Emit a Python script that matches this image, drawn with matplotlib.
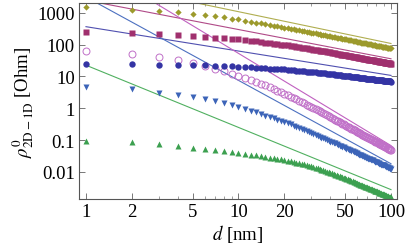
import numpy as np
import matplotlib
matplotlib.use('Agg')
import matplotlib.pyplot as plt

plt.rcParams['font.family'] = ['Liberation Serif', 'DejaVu Serif']
plt.rcParams['mathtext.fontset'] = 'stix'

# separation d [nm], one point per nm
d = list(range(1, 101))

olive_pts = [1535, 1240, 1130, 1050, 930, 870, 790, 720, 665, 620,
             572, 531, 496, 466, 439, 416, 395, 376, 359, 344,
             330, 316, 303, 292, 282, 272, 263, 255, 247, 239,
             232, 225, 219, 213, 207, 202, 197, 192, 187, 183,
             179, 175, 171, 168, 164, 161, 158, 155, 152, 149,
             146, 144, 141, 138, 136, 133, 131, 129, 127, 125,
             123, 121, 119, 117, 115, 114, 112, 110, 109, 107,
             106, 105, 103, 102, 100, 99, 98, 97, 95, 94,
             93, 92, 91, 90, 89, 88, 87, 86, 85, 84,
             83, 82, 82, 81, 80, 79, 78, 78, 77, 76]

square_pts = [251, 227, 212, 197, 184, 176, 167, 160, 155, 149,
              141, 134, 127, 122, 117, 112, 108, 105, 101, 98,
              95, 91, 88, 86, 83, 81, 78, 76, 74, 72,
              70, 69, 67, 65, 64, 62, 61, 59, 58, 57,
              55, 54, 53, 52, 51, 50, 49, 49, 48, 47,
              46, 45, 44, 44, 43, 42, 42, 41, 40, 40,
              39, 39, 38, 38, 37, 36, 36, 35, 35, 35,
              34, 34, 33, 33, 33, 32, 32, 31, 31, 31,
              30, 30, 30, 29, 29, 29, 28, 28, 28, 28,
              27, 27, 27, 27, 26, 26, 26, 26, 25, 25]

blue_pts = [25, 24, 23.5, 23, 23, 22.5, 22, 21.5, 21, 20.5,
            20.0, 19.4, 19.0, 18.5, 18.2, 17.8, 17.5, 17.2, 16.9, 16.7,
            16.3, 16.0, 15.7, 15.3, 15.1, 14.8, 14.6, 14.3, 14.1, 13.9,
            13.6, 13.4, 13.2, 13.0, 12.8, 12.6, 12.4, 12.2, 12.0, 11.9,
            11.7, 11.6, 11.4, 11.3, 11.1, 11.0, 10.9, 10.7, 10.6, 10.5,
            10.4, 10.3, 10.1, 10.0, 9.9, 9.8, 9.7, 9.6, 9.5, 9.4,
            9.3, 9.2, 9.1, 9.1, 9.0, 8.9, 8.8, 8.7, 8.6, 8.6,
            8.5, 8.4, 8.4, 8.3, 8.2, 8.2, 8.1, 8.0, 8.0, 7.9,
            7.9, 7.8, 7.7, 7.7, 7.6, 7.6, 7.5, 7.5, 7.4, 7.4,
            7.3, 7.3, 7.2, 7.2, 7.1, 7.1, 7.0, 7.0, 7.0, 6.9]

open_pts = [65, 50, 40, 33, 27, 21.5, 17.5, 14.5, 12.2, 10.4,
            8.9, 7.6, 6.7, 5.9, 5.2, 4.6, 4.1, 3.6, 3.3, 2.9,
            2.6, 2.3, 2.1, 1.9, 1.7, 1.56, 1.43, 1.31, 1.21, 1.11,
            1.02, 0.94, 0.86, 0.81, 0.74, 0.69, 0.64, 0.60, 0.56, 0.53,
            0.49, 0.46, 0.44, 0.41, 0.39, 0.36, 0.35, 0.33, 0.31, 0.29,
            0.279, 0.266, 0.254, 0.242, 0.230, 0.220, 0.209, 0.201, 0.191, 0.184,
            0.176, 0.169, 0.162, 0.155, 0.149, 0.143, 0.138, 0.132, 0.127, 0.123,
            0.119, 0.114, 0.110, 0.106, 0.103, 0.099, 0.096, 0.093, 0.090, 0.087,
            0.084, 0.081, 0.079, 0.077, 0.074, 0.072, 0.070, 0.068, 0.066, 0.064,
            0.062, 0.060, 0.059, 0.057, 0.055, 0.054, 0.052, 0.051, 0.050, 0.049]

down_pts = [4.7, 3.9, 3.0, 2.6, 2.3, 2.0, 1.7, 1.5, 1.3, 1.13,
            0.97, 0.85, 0.74, 0.66, 0.59, 0.53, 0.48, 0.44, 0.40, 0.37,
            0.34, 0.31, 0.28, 0.26, 0.24, 0.22, 0.20, 0.19, 0.177, 0.166,
            0.155, 0.145, 0.135, 0.128, 0.120, 0.113, 0.107, 0.101, 0.095, 0.090,
            0.086, 0.082, 0.078, 0.074, 0.071, 0.067, 0.064, 0.062, 0.059, 0.057,
            0.054, 0.052, 0.050, 0.048, 0.046, 0.044, 0.042, 0.041, 0.039, 0.038,
            0.037, 0.035, 0.034, 0.033, 0.032, 0.031, 0.030, 0.029, 0.028, 0.027,
            0.026, 0.025, 0.025, 0.024, 0.023, 0.023, 0.022, 0.021, 0.021, 0.020,
            0.020, 0.019, 0.019, 0.018, 0.018, 0.017, 0.017, 0.016, 0.016, 0.016,
            0.015, 0.015, 0.0145, 0.014, 0.014, 0.013, 0.013, 0.013, 0.0126, 0.0123]

up_pts = [0.092, 0.085, 0.074, 0.065, 0.058, 0.052, 0.048, 0.045, 0.042, 0.040,
          0.0372, 0.0349, 0.0328, 0.0310, 0.0295, 0.0281, 0.0269, 0.0258, 0.0247, 0.0238,
          0.0225, 0.0214, 0.0204, 0.0195, 0.0186, 0.0178, 0.0171, 0.0164, 0.0158, 0.0152,
          0.0144, 0.0136, 0.0129, 0.0123, 0.0117, 0.0111, 0.0106, 0.0101, 0.0097, 0.0093,
          0.0089, 0.0085, 0.0082, 0.0079, 0.0076, 0.0073, 0.0070, 0.0068, 0.0065, 0.0063,
          0.00605, 0.00583, 0.00562, 0.00542, 0.00522, 0.00504, 0.00485, 0.00470, 0.00453, 0.00439,
          0.00425, 0.00411, 0.00398, 0.00385, 0.00373, 0.00361, 0.00352, 0.00340, 0.00331, 0.00322,
          0.00313, 0.00305, 0.00296, 0.00288, 0.00281, 0.00273, 0.00267, 0.00259, 0.00252, 0.00247,
          0.00241, 0.00234, 0.00229, 0.00224, 0.00219, 0.00214, 0.00208, 0.00204, 0.00200, 0.00195,
          0.00191, 0.00186, 0.00183, 0.00179, 0.00175, 0.00171, 0.00167, 0.00164, 0.00161, 0.00158]

# large-d asymptotes, values at d = 1 and d = 100
fit_d = [1, 100]
olive_fit = [10900, 109]
square_fit = [2490, 36]
blue_fit = [368, 10.8]
open_fit = [42300, 0.067]
down_fit = [3155, 0.018]
up_fit = [22.6, 0.00276]

c_olive = '#9c9a2c'
c_square = '#a0306e'
c_open = '#c070c8'
c_blue = '#3434a4'
c_down = '#3c64b8'
c_up = '#3ca050'

fig = plt.figure(figsize=(4.07, 2.51), dpi=100)
ax = fig.add_axes([79/407, 51/251, 318/407, 196/251])

ax.plot(fit_d, olive_fit, color='#b0ae50', lw=0.8)
ax.plot(fit_d, square_fit, color='#b04a88', lw=0.8)
ax.plot(fit_d, blue_fit, color='#5050b0', lw=0.8)
ax.plot(fit_d, open_fit, color='#c060c0', lw=0.8)
ax.plot(fit_d, down_fit, color='#4c70c0', lw=0.8)
ax.plot(fit_d, up_fit, color='#50b060', lw=0.8)

ax.plot(d, olive_pts, 'D', color=c_olive, ms=3.2, mec='none')
ax.plot(d, square_pts, 's', color=c_square, ms=4.0, mec='none')
ax.plot(d, open_pts, 'o', mfc='none', mec=c_open, ms=5.0, mew=0.7)
ax.plot(d, blue_pts, 'o', color=c_blue, ms=4.6, mec='none')
ax.plot(d, down_pts, 'v', color=c_down, ms=4.0, mec='none')
ax.plot(d, up_pts, '^', color=c_up, ms=4.0, mec='none')

ax.set_xscale('log')
ax.set_yscale('log')
ax.set_xlim(0.9, 109.5)
ax.set_ylim(0.0014, 2045)

ax.set_xticks([1, 2, 5, 10, 20, 50, 100])
ax.set_xticklabels(['1', '2', '5', '10', '20', '50', '100'])
ax.set_yticks([0.01, 0.1, 1, 10, 100, 1000])
ax.set_yticklabels(['0.01', '0.1', '1', '10', '100', '1000'])

for s in ax.spines.values():
    s.set_color('#555555')
    s.set_linewidth(0.8)
ax.tick_params(which='both', direction='in', top=True, right=True, color='#777777', labelsize=13.5)
ax.tick_params(which='major', length=4, width=0.7, pad=3)
ax.tick_params(which='minor', length=2, width=0.5)

ax.set_xlabel(r'$d$ [nm]', fontsize=13.5, labelpad=1)
ax.set_ylabel(r'$\rho^{0}_{\mathrm{2D-1D}}$ [Ohm]', fontsize=13.5, labelpad=1)

plt.savefig('out.png', dpi=100)
